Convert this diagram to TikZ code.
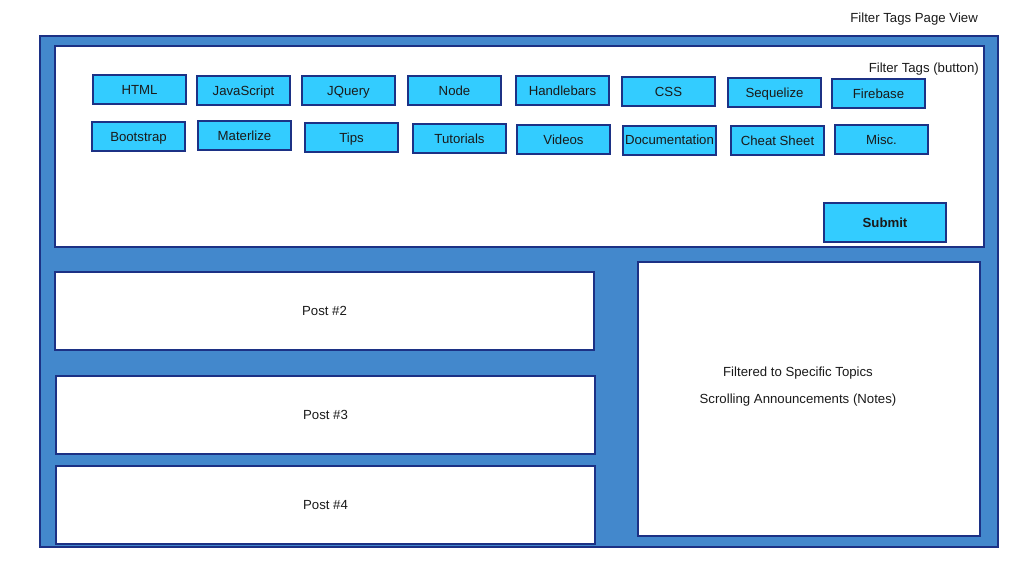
\documentclass[tikz,border=0pt]{standalone}
\usepackage{fontspec}
\setmainfont{Liberation Sans}
\usepackage{tikz}
\usetikzlibrary{positioning}

\definecolor{frameblue}{HTML}{4388CC}
\definecolor{edgeblue}{HTML}{1C3185}
\definecolor{tagcyan}{HTML}{33CCFF}
\definecolor{inkgray}{HTML}{1A1A1A}

\begin{document}
\begin{tikzpicture}
		[x=1pt, y=-1pt,
		 every node/.style={font=\fontsize{13.2}{16}\selectfont, text=inkgray,
		   text height=0.95em, text depth=0em},
		 panel/.style={draw=edgeblue, line width=2pt, fill=white, inner sep=0pt},
		 tag/.style={draw=edgeblue, line width=2pt, fill=tagcyan, inner sep=0pt,
		   minimum width=93pt, minimum height=29pt},
		 label/.style={inner sep=0pt}]
		\useasboundingbox (0,0) rectangle (1036,563);

		% page frame
		\node[panel, fill=frameblue, minimum width=958pt, minimum height=511pt] (page) at (519,291.5) {};
		\node[label, anchor=east] (title) at (978,18) {Filter Tags Page View};

		% filter area
		\node[panel, minimum width=929pt, minimum height=201pt] (filters) at (519.5,146.5) {};
		\node[label, anchor=east] (hint) at (979,68) {Filter Tags (button)};

		\node[tag] (html) at (139.5,89.5) {HTML};
		\node[tag] (js) at (243.5,90.5) {JavaScript};
		\node[tag] (jquery) at (348.5,90.5) {JQuery};
		\node[tag] (node) at (454.5,90.5) {Node};
		\node[tag] (hbs) at (562.5,90.5) {Handlebars};
		\node[tag] (css) at (668.5,91.5) {CSS};
		\node[tag] (seq) at (774.5,92.5) {Sequelize};
		\node[tag] (fire) at (878.5,93.5) {Firebase};

		\node[tag] (boot) at (138.5,136.5) {Bootstrap};
		\node[tag] (mat) at (244.5,135.5) {Materlize};
		\node[tag] (tips) at (351.5,137.5) {Tips};
		\node[tag] (tut) at (459.5,138.5) {Tutorials};
		\node[tag] (vid) at (563.5,139.5) {Videos};
		\node[tag] (docs) at (669.5,140) {Documentation};
		\node[tag] (cheat) at (777.5,140.5) {Cheat Sheet};
		\node[tag] (misc) at (881.5,139.5) {Misc.};

		\node[tag, minimum width=122pt, minimum height=39pt, font=\fontsize{13.2}{16}\selectfont\bfseries] (submit) at (885,222.5) {Submit};

		% posts
		\node[panel, minimum width=539pt, minimum height=78pt] (post2) at (324.5,311) {Post \#2};
		\node[panel, minimum width=539pt, minimum height=78pt] (post3) at (325.5,415) {Post \#3};
		\node[panel, minimum width=539pt, minimum height=78pt] (post4) at (325.5,505) {Post \#4};

		% announcements
		\node[panel, minimum width=342pt, minimum height=274pt] (notes) at (809,399) {};
		\node[label] (topics) at (798,372) {Filtered to Specific Topics};
		\node[label] (scroll) at (798,399) {Scrolling Announcements (Notes)};
	\end{tikzpicture}
\end{document}
